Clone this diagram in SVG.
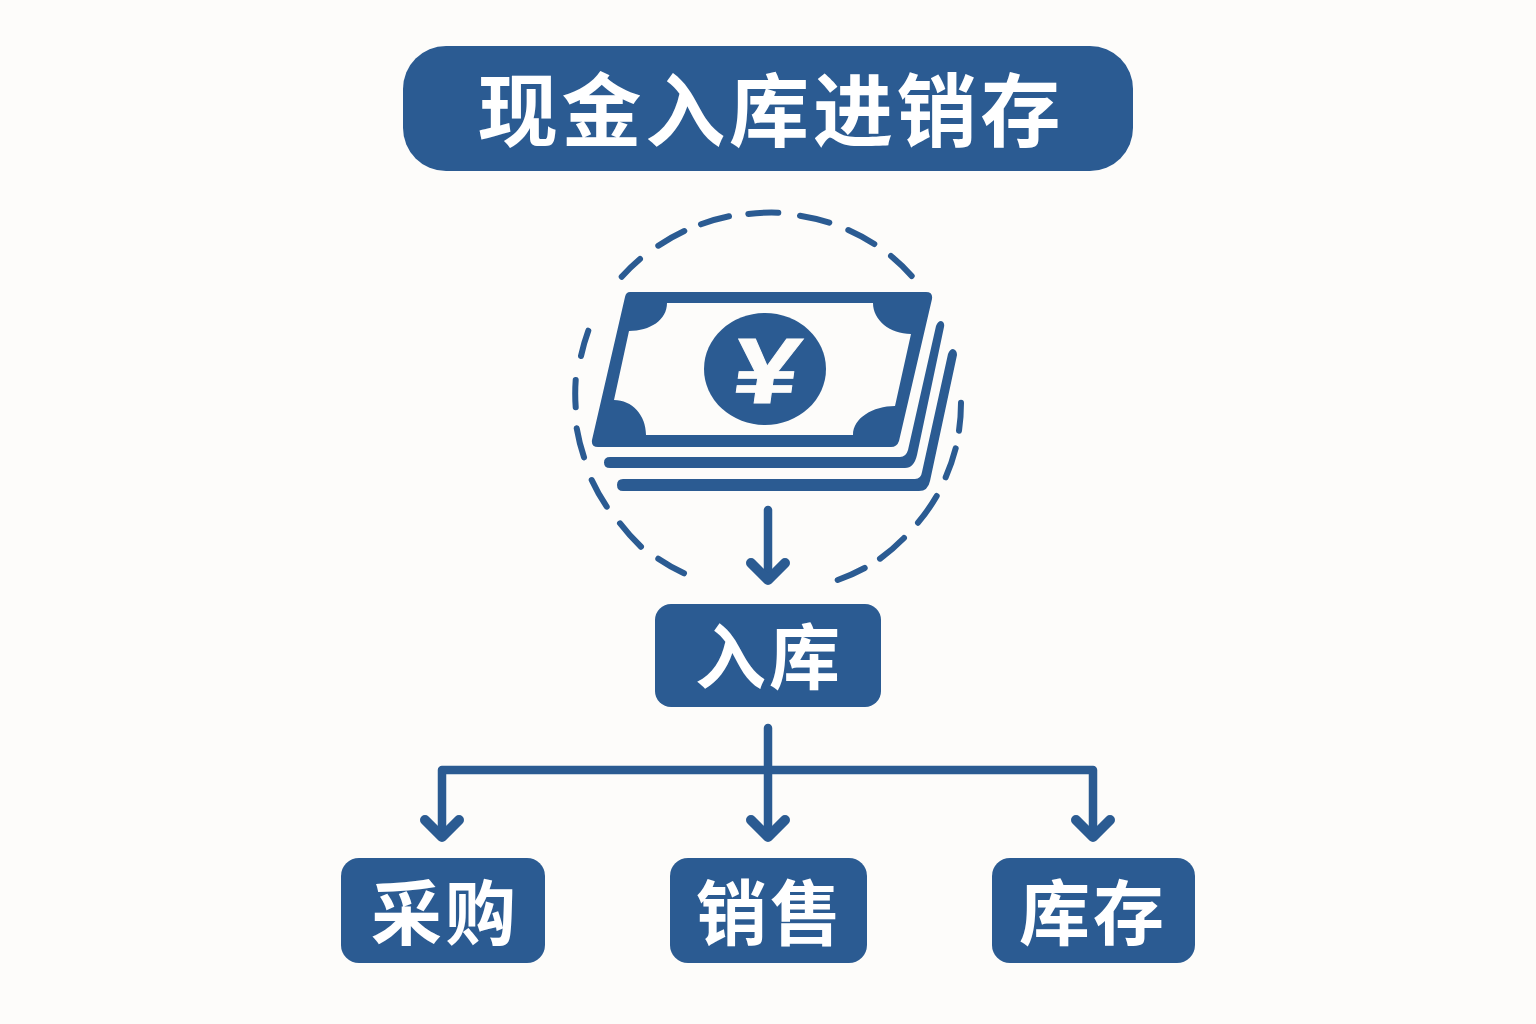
<svg xmlns="http://www.w3.org/2000/svg" width="1536" height="1024" viewBox="0 0 1536 1024">
<defs><style>
.box{fill:#2b5b92}
.t{fill:#fff;font-family:"Noto Sans CJK SC","Liberation Sans",sans-serif;font-weight:700;text-anchor:middle}
.l{fill:none;stroke:#2b5b92;stroke-width:8.500;stroke-linecap:round;stroke-linejoin:round}
.h{fill:none;stroke:#2b5b92;stroke-width:10;stroke-linecap:round;stroke-linejoin:round}
.d{fill:none;stroke:#2b5b92;stroke-width:6;stroke-linecap:round}
</style></defs>
<rect width="1536" height="1024" fill="#fdfcfa"/>
<g id="title"><rect class="box" x="403" y="46" width="730" height="125" rx="43"/><text class="t" x="771" y="140" font-size="80" letter-spacing="3.800">现金入库进销存</text></g>
<g id="cash">
<path class="d" d="M621.700 276.700A192 192 0 0 1 640 259M658.300 245.700A192 192 0 0 1 684.300 231M701 224.300A192 192 0 0 1 729 216.300M748.300 214A192 192 0 0 1 778.300 212.700M800 215.700A192 192 0 0 1 829.300 222.700M848.300 230A192 192 0 0 1 874.300 244M891 256A192 192 0 0 1 911.700 276M961 402.700A192 192 0 0 1 959 430.700M955.700 448.300A192 192 0 0 1 945.700 477.300M936.700 496A192 192 0 0 1 918 522.700M904 538A192 192 0 0 1 880 558.700M864.700 568A192 192 0 0 1 837.700 580M684 573.300A192 192 0 0 1 658.300 558.700M641 546.700A192 192 0 0 1 620 523.300M606.700 506.700A192 192 0 0 1 591.700 480M584 457.300A192 192 0 0 1 576.700 428.300M575.700 407.300A192 192 0 0 1 575.700 380M581 356A192 192 0 0 1 588.300 330.700"/>
<path class="box" fill-rule="evenodd" d="M630 292H926Q933 292 932 299L899 441Q897 447 891 447H598Q591 447 592 440L625 297Q626 292 630 292ZM667 303C667 320 650 331 629 331L614 400C632 400 646 415 646 435H853C853 418 873 406 895 406L911 334C890 334 873 320 873 303Z"/>
<ellipse cx="765" cy="369" rx="61" ry="56" class="box"/>
<text transform="translate(762 403) skewX(-8) scale(1.27 1)" text-anchor="middle" font-family="Liberation Sans,sans-serif" font-weight="700" font-size="93" fill="#fdfcfa" stroke="#fdfcfa" stroke-width="0.800">¥</text>
<path class="box" d="M610 457H900Q906 457 908 450L936 326Q938 321 941 321Q945 322 944 327L917 455Q914 468 905 468H610Q604 468 604 462.500Q604 457 610 457Z"/>
<path class="box" d="M623 479H915Q921 479 922 472L948 354Q950 349 953 349Q957 350 957 355L930 481Q928 491 919 491H623Q617 491 617 485Q617 479 623 479Z"/>
</g>
<g id="connectors">
<path class="l" d="M768 510V578M768 728V836M442 836V770H1093V836"/>
<path class="h" d="M751 563L768 580L785 563M751 820L768 837L785 820M425 820L442 837L459 820M1076 820L1093 837L1110 820"/>
</g>
<g id="n-ruku"><rect class="box" x="655" y="604" width="226" height="103" rx="16"/><text class="t" x="769" y="683" font-size="71" letter-spacing="3">入库</text></g>
<g id="n-caigou"><rect class="box" x="341" y="858" width="204" height="105" rx="18"/><text class="t" x="445" y="939" font-size="71" letter-spacing="3">采购</text></g>
<g id="n-xiaoshou"><rect class="box" x="670" y="858" width="197" height="105" rx="18"/><text class="t" x="770" y="939" font-size="71" letter-spacing="3">销售</text></g>
<g id="n-kucun"><rect class="box" x="992" y="858" width="203" height="105" rx="18"/><text class="t" x="1093" y="939" font-size="71" letter-spacing="3">库存</text></g>
</svg>
